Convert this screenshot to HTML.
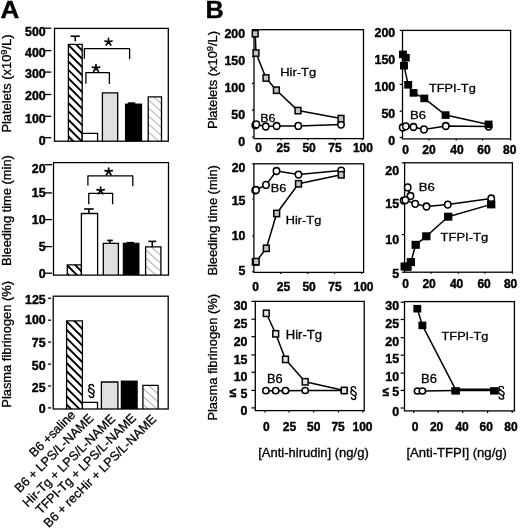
<!DOCTYPE html>
<html><head><meta charset="utf-8"><style>
html,body{margin:0;padding:0;background:#fff;}
svg{display:block;font-family:"Liberation Sans",sans-serif;will-change:transform;}
</style></head><body>
<svg width="520" height="530" viewBox="0 0 520 530">
<rect width="520" height="530" fill="#fff"/>
<text transform="translate(0.52,18.3) scale(1.05,1)" font-size="24.8" font-weight="bold" text-anchor="start" stroke="#000" stroke-width="0.4">A</text>
<text transform="translate(205.47,18.3) scale(1.02,1)" font-size="24.8" font-weight="bold" text-anchor="start" stroke="#000" stroke-width="0.4">B</text>
<rect x="68.4" y="44.4" width="13.8" height="96.8" fill="#fff"/>
<clipPath id="c1"><rect x="68.4" y="44.4" width="13.8" height="96.8"/></clipPath>
<g clip-path="url(#c1)" stroke="#000" stroke-width="1.9">
<line x1="66.4" y1="26.4" x2="84.2" y2="44.2"/>
<line x1="66.4" y1="34.7" x2="84.2" y2="52.5"/>
<line x1="66.4" y1="43" x2="84.2" y2="60.8"/>
<line x1="66.4" y1="51.3" x2="84.2" y2="69.1"/>
<line x1="66.4" y1="59.6" x2="84.2" y2="77.4"/>
<line x1="66.4" y1="67.9" x2="84.2" y2="85.7"/>
<line x1="66.4" y1="76.2" x2="84.2" y2="94"/>
<line x1="66.4" y1="84.5" x2="84.2" y2="102.3"/>
<line x1="66.4" y1="92.8" x2="84.2" y2="110.6"/>
<line x1="66.4" y1="101.1" x2="84.2" y2="118.9"/>
<line x1="66.4" y1="109.4" x2="84.2" y2="127.2"/>
<line x1="66.4" y1="117.7" x2="84.2" y2="135.5"/>
<line x1="66.4" y1="126" x2="84.2" y2="143.8"/>
<line x1="66.4" y1="134.3" x2="84.2" y2="152.1"/>
<line x1="66.4" y1="142.6" x2="84.2" y2="160.4"/>
</g>
<path d="M68.4,141.2V44.4H82.2V141.2" fill="none" stroke="#000" stroke-width="1.3"/>
<rect x="82.2" y="133.4" width="15.4" height="7.8" fill="#fff"/>
<path d="M82.2,141.2V133.4H97.6V141.2" fill="none" stroke="#000" stroke-width="1.3"/>
<rect x="102.4" y="92.8" width="15.3" height="48.4" fill="#e0e0e0"/>
<path d="M102.4,141.2V92.8H117.7V141.2" fill="none" stroke="#000" stroke-width="1.3"/>
<rect x="124.95" y="103.55" width="17.2" height="37.65" fill="#000"/>
<rect x="127.8" y="102.2" width="7.6" height="2" rx="1.2" fill="#000"/>
<rect x="148.2" y="96.9" width="13.3" height="44.3" fill="#fff"/>
<clipPath id="c2"><rect x="148.2" y="96.9" width="13.3" height="44.3"/></clipPath>
<g clip-path="url(#c2)" stroke="#b4b4b4" stroke-width="1.1">
<line x1="146.2" y1="82" x2="163.5" y2="97.57"/>
<line x1="146.2" y1="90" x2="163.5" y2="105.57"/>
<line x1="146.2" y1="98" x2="163.5" y2="113.57"/>
<line x1="146.2" y1="106" x2="163.5" y2="121.57"/>
<line x1="146.2" y1="114" x2="163.5" y2="129.57"/>
<line x1="146.2" y1="122" x2="163.5" y2="137.57"/>
<line x1="146.2" y1="130" x2="163.5" y2="145.57"/>
<line x1="146.2" y1="138" x2="163.5" y2="153.57"/>
<line x1="146.2" y1="146" x2="163.5" y2="161.57"/>
</g>
<path d="M148.2,141.2V96.9H161.5V141.2" fill="none" stroke="#000" stroke-width="1.3"/>
<line x1="70.6" y1="36.2" x2="79.8" y2="36.2" stroke="#000" stroke-width="1.6"/>
<line x1="75.2" y1="36.2" x2="75.2" y2="41.3" stroke="#000" stroke-width="1.6"/>
<polyline points="84.4,58.8 84.4,48.6 129.6,48.6 129.6,59.2" fill="none" stroke="#000" stroke-width="1.3" stroke-linejoin="round"/>
<polyline points="85.9,83.8 85.9,72.6 109.4,72.6 109.4,84" fill="none" stroke="#000" stroke-width="1.3" stroke-linejoin="round"/>
<path d="M108.5,41.8l0,-3.4M108.5,41.8l-3.6,-0.8M108.5,41.8l3.6,-0.8M108.5,41.8l-2.3,3.3M108.5,41.8l2.3,3.3" stroke="#000" stroke-width="1.7" stroke-linecap="round" fill="none"/>
<path d="M96,67.9l0,-3.4M96,67.9l-3.6,-0.8M96,67.9l3.6,-0.8M96,67.9l-2.3,3.3M96,67.9l2.3,3.3" stroke="#000" stroke-width="1.7" stroke-linecap="round" fill="none"/>
<rect x="54.5" y="28.4" width="113.8" height="112.8" fill="none" stroke="#000" stroke-width="1.3"/>
<line x1="44.3" y1="28.2" x2="51.3" y2="28.2" stroke="#000" stroke-width="1.3"/>
<line x1="44.3" y1="50.6" x2="51.3" y2="50.6" stroke="#000" stroke-width="1.3"/>
<line x1="44.3" y1="72.1" x2="51.3" y2="72.1" stroke="#000" stroke-width="1.3"/>
<line x1="44.3" y1="94.5" x2="51.3" y2="94.5" stroke="#000" stroke-width="1.3"/>
<line x1="44.3" y1="116.3" x2="51.3" y2="116.3" stroke="#000" stroke-width="1.3"/>
<line x1="44.3" y1="137.7" x2="51.3" y2="137.7" stroke="#000" stroke-width="1.3"/>
<text transform="translate(45.72,35.65) scale(1.03,1)" font-size="12" font-weight="bold" text-anchor="end" stroke="#000" stroke-width="0.4">500</text>
<text transform="translate(45.72,57.3) scale(1.03,1)" font-size="12" font-weight="bold" text-anchor="end" stroke="#000" stroke-width="0.4">400</text>
<text transform="translate(45.72,78) scale(1.03,1)" font-size="12" font-weight="bold" text-anchor="end" stroke="#000" stroke-width="0.4">300</text>
<text transform="translate(45.72,100.3) scale(1.03,1)" font-size="12" font-weight="bold" text-anchor="end" stroke="#000" stroke-width="0.4">200</text>
<text transform="translate(45.72,122.95) scale(1.03,1)" font-size="12" font-weight="bold" text-anchor="end" stroke="#000" stroke-width="0.4">100</text>
<text transform="translate(45.72,144.6) scale(1.03,1)" font-size="12" font-weight="bold" text-anchor="end" stroke="#000" stroke-width="0.4">0</text>
<text transform="translate(10.5,83.55) rotate(-90)" font-size="12" text-anchor="middle" textLength="98.1" lengthAdjust="spacingAndGlyphs" stroke="#000" stroke-width="0.3">Platelets (x10<tspan font-size="8.6" dy="-3.7">9</tspan><tspan dy="3.7">/L)</tspan></text>
<rect x="67.3" y="264.8" width="14.1" height="10.3" fill="#fff"/>
<clipPath id="c3"><rect x="67.3" y="264.8" width="14.1" height="10.3"/></clipPath>
<g clip-path="url(#c3)" stroke="#000" stroke-width="1.9">
<line x1="65.3" y1="246.8" x2="83.4" y2="264.9"/>
<line x1="65.3" y1="255.1" x2="83.4" y2="273.2"/>
<line x1="65.3" y1="263.4" x2="83.4" y2="281.5"/>
<line x1="65.3" y1="271.7" x2="83.4" y2="289.8"/>
<line x1="65.3" y1="280" x2="83.4" y2="298.1"/>
</g>
<path d="M67.3,275.1V264.8H81.4V275.1" fill="none" stroke="#000" stroke-width="1.3"/>
<rect x="81.4" y="213.5" width="16.2" height="61.6" fill="#fff"/>
<path d="M81.4,275.1V213.5H97.6V275.1" fill="none" stroke="#000" stroke-width="1.3"/>
<line x1="84.1" y1="209" x2="93.7" y2="209" stroke="#000" stroke-width="1.6"/>
<line x1="88.9" y1="209" x2="88.9" y2="213.5" stroke="#000" stroke-width="1.6"/>
<rect x="103.3" y="243.4" width="15.1" height="31.7" fill="#e0e0e0"/>
<path d="M103.3,275.1V243.4H118.4V275.1" fill="none" stroke="#000" stroke-width="1.3"/>
<line x1="107.2" y1="240.4" x2="112.8" y2="240.4" stroke="#000" stroke-width="1.6"/>
<line x1="110" y1="240.4" x2="110" y2="243.4" stroke="#000" stroke-width="1.6"/>
<rect x="122.75" y="242.75" width="16.7" height="32.35" fill="#000"/>
<rect x="126.5" y="241.9" width="7.5" height="1.5" fill="#000"/>
<rect x="145.6" y="246.9" width="15.3" height="28.2" fill="#fff"/>
<clipPath id="c4"><rect x="145.6" y="246.9" width="15.3" height="28.2"/></clipPath>
<g clip-path="url(#c4)" stroke="#b4b4b4" stroke-width="1.1">
<line x1="143.6" y1="224" x2="162.9" y2="241.37"/>
<line x1="143.6" y1="232" x2="162.9" y2="249.37"/>
<line x1="143.6" y1="240" x2="162.9" y2="257.37"/>
<line x1="143.6" y1="248" x2="162.9" y2="265.37"/>
<line x1="143.6" y1="256" x2="162.9" y2="273.37"/>
<line x1="143.6" y1="264" x2="162.9" y2="281.37"/>
<line x1="143.6" y1="272" x2="162.9" y2="289.37"/>
<line x1="143.6" y1="280" x2="162.9" y2="297.37"/>
</g>
<path d="M145.6,275.1V246.9H160.9V275.1" fill="none" stroke="#000" stroke-width="1.3"/>
<line x1="148.3" y1="241.4" x2="156.3" y2="241.4" stroke="#000" stroke-width="1.6"/>
<line x1="152.3" y1="241.4" x2="152.3" y2="246.9" stroke="#000" stroke-width="1.6"/>
<polyline points="87.9,185.5 87.9,175.9 132.8,175.9 132.8,186.2" fill="none" stroke="#000" stroke-width="1.3" stroke-linejoin="round"/>
<polyline points="88.8,204.2 88.8,193.3 112.6,193.3 112.6,204.2" fill="none" stroke="#000" stroke-width="1.3" stroke-linejoin="round"/>
<path d="M108.7,171.4l0,-3.4M108.7,171.4l-3.6,-0.8M108.7,171.4l3.6,-0.8M108.7,171.4l-2.3,3.3M108.7,171.4l2.3,3.3" stroke="#000" stroke-width="1.7" stroke-linecap="round" fill="none"/>
<path d="M100.6,190.5l0,-3.4M100.6,190.5l-3.6,-0.8M100.6,190.5l3.6,-0.8M100.6,190.5l-2.3,3.3M100.6,190.5l2.3,3.3" stroke="#000" stroke-width="1.7" stroke-linecap="round" fill="none"/>
<rect x="53.5" y="162.6" width="115" height="112.5" fill="none" stroke="#000" stroke-width="1.3"/>
<line x1="44.7" y1="164.7" x2="52.1" y2="164.7" stroke="#000" stroke-width="1.3"/>
<line x1="44.7" y1="192.9" x2="52.1" y2="192.9" stroke="#000" stroke-width="1.3"/>
<line x1="44.7" y1="219.6" x2="52.1" y2="219.6" stroke="#000" stroke-width="1.3"/>
<line x1="44.7" y1="246.6" x2="52.1" y2="246.6" stroke="#000" stroke-width="1.3"/>
<line x1="44.7" y1="273.2" x2="52.1" y2="273.2" stroke="#000" stroke-width="1.3"/>
<text transform="translate(45.62,172.65) scale(1.03,1)" font-size="12" font-weight="bold" text-anchor="end" stroke="#000" stroke-width="0.4">20</text>
<text transform="translate(45.62,197.1) scale(1.03,1)" font-size="12" font-weight="bold" text-anchor="end" stroke="#000" stroke-width="0.4">15</text>
<text transform="translate(45.62,223.95) scale(1.03,1)" font-size="12" font-weight="bold" text-anchor="end" stroke="#000" stroke-width="0.4">10</text>
<text transform="translate(45.62,250.8) scale(1.03,1)" font-size="12" font-weight="bold" text-anchor="end" stroke="#000" stroke-width="0.4">5</text>
<text transform="translate(45.62,277.55) scale(1.03,1)" font-size="12" font-weight="bold" text-anchor="end" stroke="#000" stroke-width="0.4">0</text>
<text transform="translate(10.9,210.55) rotate(-90)" font-size="12" text-anchor="middle" textLength="110.7" lengthAdjust="spacingAndGlyphs" stroke="#000" stroke-width="0.3">Bleeding time (min)</text>
<rect x="66.6" y="320.9" width="15.8" height="88.1" fill="#fff"/>
<clipPath id="c5"><rect x="66.6" y="320.9" width="15.8" height="88.1"/></clipPath>
<g clip-path="url(#c5)" stroke="#000" stroke-width="1.9">
<line x1="64.6" y1="302.9" x2="84.4" y2="322.7"/>
<line x1="64.6" y1="311.2" x2="84.4" y2="331"/>
<line x1="64.6" y1="319.5" x2="84.4" y2="339.3"/>
<line x1="64.6" y1="327.8" x2="84.4" y2="347.6"/>
<line x1="64.6" y1="336.1" x2="84.4" y2="355.9"/>
<line x1="64.6" y1="344.4" x2="84.4" y2="364.2"/>
<line x1="64.6" y1="352.7" x2="84.4" y2="372.5"/>
<line x1="64.6" y1="361" x2="84.4" y2="380.8"/>
<line x1="64.6" y1="369.3" x2="84.4" y2="389.1"/>
<line x1="64.6" y1="377.6" x2="84.4" y2="397.4"/>
<line x1="64.6" y1="385.9" x2="84.4" y2="405.7"/>
<line x1="64.6" y1="394.2" x2="84.4" y2="414"/>
<line x1="64.6" y1="402.5" x2="84.4" y2="422.3"/>
<line x1="64.6" y1="410.8" x2="84.4" y2="430.6"/>
</g>
<path d="M66.6,409V320.9H82.4V409" fill="none" stroke="#000" stroke-width="1.3"/>
<rect x="82.4" y="402.3" width="15.1" height="6.7" fill="#fff"/>
<path d="M82.4,409V402.3H97.5V409" fill="none" stroke="#000" stroke-width="1.3"/>
<rect x="101.4" y="382" width="16.5" height="27" fill="#e0e0e0"/>
<path d="M101.4,409V382H117.9V409" fill="none" stroke="#000" stroke-width="1.3"/>
<rect x="120.75" y="380.55" width="17" height="28.45" fill="#000"/>
<rect x="142.9" y="385.4" width="15.2" height="23.6" fill="#fff"/>
<clipPath id="c6"><rect x="142.9" y="385.4" width="15.2" height="23.6"/></clipPath>
<g clip-path="url(#c6)" stroke="#b4b4b4" stroke-width="1.1">
<line x1="140.9" y1="362.5" x2="160.1" y2="379.78"/>
<line x1="140.9" y1="370.5" x2="160.1" y2="387.78"/>
<line x1="140.9" y1="378.5" x2="160.1" y2="395.78"/>
<line x1="140.9" y1="386.5" x2="160.1" y2="403.78"/>
<line x1="140.9" y1="394.5" x2="160.1" y2="411.78"/>
<line x1="140.9" y1="402.5" x2="160.1" y2="419.78"/>
<line x1="140.9" y1="410.5" x2="160.1" y2="427.78"/>
</g>
<path d="M142.9,409V385.4H158.1V409" fill="none" stroke="#000" stroke-width="1.3"/>
<path d="M93.62,386.35 C93.41,385.02 92.35,384.51 91.29,384.51 C89.81,384.51 88.97,385.43 88.97,386.45 C88.97,387.78 90.45,388.39 91.72,389.01 C93.20,389.72 94.36,390.44 94.36,391.87 C94.36,392.89 93.51,393.61 92.56,394.02 M89.18,395.65 C89.39,396.98 90.45,397.49 91.51,397.49 C92.99,397.49 93.83,396.57 93.83,395.55 C93.83,394.22 92.35,393.61 91.08,392.99 C89.60,392.28 88.44,391.56 88.44,390.13 C88.44,389.11 89.29,388.39 90.24,387.98 " fill="none" stroke="#000" stroke-width="1.4" stroke-linecap="round"/>
<rect x="53.2" y="296.2" width="115" height="112.8" fill="none" stroke="#000" stroke-width="1.3"/>
<line x1="48.1" y1="298.3" x2="51" y2="298.3" stroke="#000" stroke-width="1.3"/>
<line x1="48.1" y1="320.2" x2="51" y2="320.2" stroke="#000" stroke-width="1.3"/>
<line x1="48.1" y1="342.1" x2="51" y2="342.1" stroke="#000" stroke-width="1.3"/>
<line x1="48.1" y1="364.1" x2="51" y2="364.1" stroke="#000" stroke-width="1.3"/>
<line x1="48.1" y1="386" x2="51" y2="386" stroke="#000" stroke-width="1.3"/>
<line x1="48.1" y1="407.9" x2="51" y2="407.9" stroke="#000" stroke-width="1.3"/>
<text transform="translate(45.62,303.65) scale(1.03,1)" font-size="12" font-weight="bold" text-anchor="end" stroke="#000" stroke-width="0.4">125</text>
<text transform="translate(45.62,323.95) scale(1.03,1)" font-size="12" font-weight="bold" text-anchor="end" stroke="#000" stroke-width="0.4">100</text>
<text transform="translate(45.62,347.2) scale(1.03,1)" font-size="12" font-weight="bold" text-anchor="end" stroke="#000" stroke-width="0.4">75</text>
<text transform="translate(45.62,370.3) scale(1.03,1)" font-size="12" font-weight="bold" text-anchor="end" stroke="#000" stroke-width="0.4">50</text>
<text transform="translate(45.62,391.8) scale(1.03,1)" font-size="12" font-weight="bold" text-anchor="end" stroke="#000" stroke-width="0.4">25</text>
<text transform="translate(45.62,413) scale(1.03,1)" font-size="12" font-weight="bold" text-anchor="end" stroke="#000" stroke-width="0.4">0</text>
<text transform="translate(11.1,344.35) rotate(-90)" font-size="12" text-anchor="middle" textLength="126.7" lengthAdjust="spacingAndGlyphs" stroke="#000" stroke-width="0.3">Plasma fibrinogen (%)</text>
<text transform="translate(34.25,457.65) rotate(-45)" font-size="12.65" stroke="#000" stroke-width="0.3">B6 +saline</text>
<text transform="translate(19.85,493.25) rotate(-45)" font-size="12.65" stroke="#000" stroke-width="0.3">B6 + LPS/L-NAME</text>
<text transform="translate(27.75,507.75) rotate(-45)" font-size="12.65" stroke="#000" stroke-width="0.3">Hir-Tg + LPS/L-NAME</text>
<text transform="translate(40.68,514.82) rotate(-45)" font-size="12.65" stroke="#000" stroke-width="0.3">TFPI-Tg + LPS/L-NAME</text>
<text transform="translate(48.75,528.15) rotate(-45)" font-size="12.65" stroke="#000" stroke-width="0.3">B6 + recHir + LPS/L-NAME</text>
<line x1="252" y1="29.7" x2="254" y2="29.7" stroke="#000" stroke-width="1.2"/>
<line x1="252" y1="56.6" x2="254" y2="56.6" stroke="#000" stroke-width="1.2"/>
<line x1="252" y1="83.4" x2="254" y2="83.4" stroke="#000" stroke-width="1.2"/>
<line x1="252" y1="110.2" x2="254" y2="110.2" stroke="#000" stroke-width="1.2"/>
<line x1="252" y1="137" x2="254" y2="137" stroke="#000" stroke-width="1.2"/>
<line x1="281.1" y1="138.6" x2="281.1" y2="140.2" stroke="#000" stroke-width="1.2"/>
<line x1="308" y1="138.6" x2="308" y2="140.2" stroke="#000" stroke-width="1.2"/>
<line x1="335.1" y1="138.6" x2="335.1" y2="140.2" stroke="#000" stroke-width="1.2"/>
<line x1="362.3" y1="138.6" x2="362.3" y2="140.2" stroke="#000" stroke-width="1.2"/>
<rect x="254" y="29.7" width="109.5" height="108.9" fill="none" stroke="#000" stroke-width="1.3"/>
<polyline points="255.3,125.2 256.3,124.4 265.8,126.5 276.6,126 298.25,125.9 341,124.6" fill="none" stroke="#000" stroke-width="1.5" stroke-linejoin="round"/>
<ellipse cx="255.3" cy="125.2" rx="3.18" ry="3.38" fill="#fff" stroke="#000" stroke-width="1.55"/>
<ellipse cx="256.3" cy="124.4" rx="3.18" ry="3.38" fill="#fff" stroke="#000" stroke-width="1.55"/>
<ellipse cx="265.8" cy="126.5" rx="3.18" ry="3.38" fill="#fff" stroke="#000" stroke-width="1.55"/>
<ellipse cx="276.6" cy="126" rx="3.18" ry="3.38" fill="#fff" stroke="#000" stroke-width="1.55"/>
<ellipse cx="298.25" cy="125.9" rx="3.18" ry="3.38" fill="#fff" stroke="#000" stroke-width="1.55"/>
<ellipse cx="341" cy="124.6" rx="3.18" ry="3.38" fill="#fff" stroke="#000" stroke-width="1.55"/>
<polyline points="255.2,33.7 256,53.1 266,78 276.4,90.2 298,110.6 341,118.6" fill="none" stroke="#000" stroke-width="1.5" stroke-linejoin="round"/>
<rect x="252.3" y="30.55" width="5.8" height="6.3" fill="#c4c4c4" stroke="#000" stroke-width="1.5"/>
<rect x="253.1" y="49.95" width="5.8" height="6.3" fill="#c4c4c4" stroke="#000" stroke-width="1.5"/>
<rect x="263.1" y="74.85" width="5.8" height="6.3" fill="#c4c4c4" stroke="#000" stroke-width="1.5"/>
<rect x="273.5" y="87.05" width="5.8" height="6.3" fill="#c4c4c4" stroke="#000" stroke-width="1.5"/>
<rect x="295.1" y="107.45" width="5.8" height="6.3" fill="#c4c4c4" stroke="#000" stroke-width="1.5"/>
<rect x="338.1" y="115.45" width="5.8" height="6.3" fill="#c4c4c4" stroke="#000" stroke-width="1.5"/>
<text transform="translate(245.01,37.9) scale(1.03,1)" font-size="12" font-weight="bold" text-anchor="end" stroke="#000" stroke-width="0.4">200</text>
<text transform="translate(245.01,64.5) scale(1.03,1)" font-size="12" font-weight="bold" text-anchor="end" stroke="#000" stroke-width="0.4">150</text>
<text transform="translate(245.01,91.65) scale(1.03,1)" font-size="12" font-weight="bold" text-anchor="end" stroke="#000" stroke-width="0.4">100</text>
<text transform="translate(245.01,118.6) scale(1.03,1)" font-size="12" font-weight="bold" text-anchor="end" stroke="#000" stroke-width="0.4">50</text>
<text transform="translate(245.01,145.6) scale(1.03,1)" font-size="12" font-weight="bold" text-anchor="end" stroke="#000" stroke-width="0.4">0</text>
<text transform="translate(258.5,152)" font-size="12" font-weight="bold" text-anchor="middle" stroke="#000" stroke-width="0.4">0</text>
<text transform="translate(283.2,152)" font-size="12" font-weight="bold" text-anchor="middle" stroke="#000" stroke-width="0.4">25</text>
<text transform="translate(309.1,152)" font-size="12" font-weight="bold" text-anchor="middle" stroke="#000" stroke-width="0.4">50</text>
<text transform="translate(335,152)" font-size="12" font-weight="bold" text-anchor="middle" stroke="#000" stroke-width="0.4">75</text>
<text transform="translate(362.9,152)" font-size="12" font-weight="bold" text-anchor="middle" stroke="#000" stroke-width="0.4">100</text>
<text transform="translate(280.17,75.6) scale(1.12,1)" font-size="11.6" text-anchor="start" stroke="#000" stroke-width="0.3">Hir-Tg</text>
<text transform="translate(260.31,121.83) scale(1.08,1)" font-size="11.5" text-anchor="start" stroke="#000" stroke-width="0.3">B6</text>
<text transform="translate(216.5,80.05) rotate(-90)" font-size="12" text-anchor="middle" textLength="98.1" lengthAdjust="spacingAndGlyphs" stroke="#000" stroke-width="0.3">Platelets (x10<tspan font-size="8.6" dy="-3.7">9</tspan><tspan dy="3.7">/L)</tspan></text>
<line x1="399.7" y1="30.4" x2="402.5" y2="30.4" stroke="#000" stroke-width="1.2"/>
<line x1="399.7" y1="57.3" x2="402.5" y2="57.3" stroke="#000" stroke-width="1.2"/>
<line x1="399.7" y1="84.4" x2="402.5" y2="84.4" stroke="#000" stroke-width="1.2"/>
<line x1="399.7" y1="111.2" x2="402.5" y2="111.2" stroke="#000" stroke-width="1.2"/>
<line x1="399.7" y1="137.5" x2="402.5" y2="137.5" stroke="#000" stroke-width="1.2"/>
<line x1="429.1" y1="138.9" x2="429.1" y2="140.5" stroke="#000" stroke-width="1.2"/>
<line x1="456.2" y1="138.9" x2="456.2" y2="140.5" stroke="#000" stroke-width="1.2"/>
<line x1="482.7" y1="138.9" x2="482.7" y2="140.5" stroke="#000" stroke-width="1.2"/>
<line x1="510.6" y1="138.9" x2="510.6" y2="140.5" stroke="#000" stroke-width="1.2"/>
<rect x="402.5" y="30.4" width="108.1" height="108.5" fill="none" stroke="#000" stroke-width="1.3"/>
<polyline points="402.7,127.5 405.8,126.3 413.5,127 424,129.4 445.8,126 488.6,126.6" fill="none" stroke="#000" stroke-width="1.5" stroke-linejoin="round"/>
<ellipse cx="402.7" cy="127.5" rx="3.18" ry="3.38" fill="#fff" stroke="#000" stroke-width="1.55"/>
<ellipse cx="405.8" cy="126.3" rx="3.18" ry="3.38" fill="#fff" stroke="#000" stroke-width="1.55"/>
<ellipse cx="413.5" cy="127" rx="3.18" ry="3.38" fill="#fff" stroke="#000" stroke-width="1.55"/>
<ellipse cx="424" cy="129.4" rx="3.18" ry="3.38" fill="#fff" stroke="#000" stroke-width="1.55"/>
<ellipse cx="445.8" cy="126" rx="3.18" ry="3.38" fill="#fff" stroke="#000" stroke-width="1.55"/>
<ellipse cx="488.6" cy="126.6" rx="3.18" ry="3.38" fill="#fff" stroke="#000" stroke-width="1.55"/>
<polyline points="402.9,54.4 405.8,57.7 404,65.7 408.2,84.8 413.6,92.9 424.3,98.4 445.6,115.1 488.6,124.4" fill="none" stroke="#000" stroke-width="1.5" stroke-linejoin="round"/>
<rect x="399.7" y="51.35" width="6.4" height="6.1" fill="#000" stroke="#000" stroke-width="1.5"/>
<rect x="402.6" y="54.65" width="6.4" height="6.1" fill="#000" stroke="#000" stroke-width="1.5"/>
<rect x="400.8" y="62.65" width="6.4" height="6.1" fill="#000" stroke="#000" stroke-width="1.5"/>
<rect x="405" y="81.75" width="6.4" height="6.1" fill="#000" stroke="#000" stroke-width="1.5"/>
<rect x="410.4" y="89.85" width="6.4" height="6.1" fill="#000" stroke="#000" stroke-width="1.5"/>
<rect x="421.1" y="95.35" width="6.4" height="6.1" fill="#000" stroke="#000" stroke-width="1.5"/>
<rect x="442.4" y="112.05" width="6.4" height="6.1" fill="#000" stroke="#000" stroke-width="1.5"/>
<rect x="485.4" y="121.35" width="6.4" height="6.1" fill="#000" stroke="#000" stroke-width="1.5"/>
<text transform="translate(395.21,37.45) scale(1.03,1)" font-size="12" font-weight="bold" text-anchor="end" stroke="#000" stroke-width="0.4">200</text>
<text transform="translate(395.21,64) scale(1.03,1)" font-size="12" font-weight="bold" text-anchor="end" stroke="#000" stroke-width="0.4">150</text>
<text transform="translate(395.21,90.8) scale(1.03,1)" font-size="12" font-weight="bold" text-anchor="end" stroke="#000" stroke-width="0.4">100</text>
<text transform="translate(395.21,118.4) scale(1.03,1)" font-size="12" font-weight="bold" text-anchor="end" stroke="#000" stroke-width="0.4">50</text>
<text transform="translate(395.21,145.2) scale(1.03,1)" font-size="12" font-weight="bold" text-anchor="end" stroke="#000" stroke-width="0.4">0</text>
<text transform="translate(405.5,153.7)" font-size="12" font-weight="bold" text-anchor="middle" stroke="#000" stroke-width="0.4">0</text>
<text transform="translate(429,153.7)" font-size="12" font-weight="bold" text-anchor="middle" stroke="#000" stroke-width="0.4">20</text>
<text transform="translate(456.9,153.7)" font-size="12" font-weight="bold" text-anchor="middle" stroke="#000" stroke-width="0.4">40</text>
<text transform="translate(484,153.7)" font-size="12" font-weight="bold" text-anchor="middle" stroke="#000" stroke-width="0.4">60</text>
<text transform="translate(509.7,153.7)" font-size="12" font-weight="bold" text-anchor="middle" stroke="#000" stroke-width="0.4">80</text>
<text transform="translate(428.98,91.5) scale(1.1,1)" font-size="11.6" text-anchor="start" stroke="#000" stroke-width="0.3">TFPI-Tg</text>
<text transform="translate(409.97,119.42) scale(1.14,1)" font-size="11.5" text-anchor="start" stroke="#000" stroke-width="0.3">B6</text>
<line x1="252.3" y1="163.8" x2="253.9" y2="163.8" stroke="#000" stroke-width="1.2"/>
<line x1="252.3" y1="199" x2="253.9" y2="199" stroke="#000" stroke-width="1.2"/>
<line x1="252.3" y1="235.9" x2="253.9" y2="235.9" stroke="#000" stroke-width="1.2"/>
<line x1="252.3" y1="271.7" x2="253.9" y2="271.7" stroke="#000" stroke-width="1.2"/>
<line x1="280.7" y1="272.4" x2="280.7" y2="274" stroke="#000" stroke-width="1.2"/>
<line x1="307.7" y1="272.4" x2="307.7" y2="274" stroke="#000" stroke-width="1.2"/>
<line x1="334.6" y1="272.4" x2="334.6" y2="274" stroke="#000" stroke-width="1.2"/>
<line x1="361.6" y1="272.4" x2="361.6" y2="274" stroke="#000" stroke-width="1.2"/>
<rect x="253.9" y="163.8" width="109.7" height="108.6" fill="none" stroke="#000" stroke-width="1.3"/>
<polyline points="255.2,190.3 256,190 266,184.9 276.5,171 298.5,174.6 341.2,170.6" fill="none" stroke="#000" stroke-width="1.5" stroke-linejoin="round"/>
<ellipse cx="255.2" cy="190.3" rx="3.18" ry="3.38" fill="#fff" stroke="#000" stroke-width="1.55"/>
<ellipse cx="256" cy="190" rx="3.18" ry="3.38" fill="#fff" stroke="#000" stroke-width="1.55"/>
<ellipse cx="266" cy="184.9" rx="3.18" ry="3.38" fill="#fff" stroke="#000" stroke-width="1.55"/>
<ellipse cx="276.5" cy="171" rx="3.18" ry="3.38" fill="#fff" stroke="#000" stroke-width="1.55"/>
<ellipse cx="298.5" cy="174.6" rx="3.18" ry="3.38" fill="#fff" stroke="#000" stroke-width="1.55"/>
<ellipse cx="341.2" cy="170.6" rx="3.18" ry="3.38" fill="#fff" stroke="#000" stroke-width="1.55"/>
<polyline points="255.3,261.9 256.2,261.6 266.3,248.3 276.7,213.5 298.5,183.8 341.2,174.8" fill="none" stroke="#000" stroke-width="1.5" stroke-linejoin="round"/>
<rect x="252.4" y="258.75" width="5.8" height="6.3" fill="#c4c4c4" stroke="#000" stroke-width="1.5"/>
<rect x="253.3" y="258.45" width="5.8" height="6.3" fill="#c4c4c4" stroke="#000" stroke-width="1.5"/>
<rect x="263.4" y="245.15" width="5.8" height="6.3" fill="#c4c4c4" stroke="#000" stroke-width="1.5"/>
<rect x="273.8" y="210.35" width="5.8" height="6.3" fill="#c4c4c4" stroke="#000" stroke-width="1.5"/>
<rect x="295.6" y="180.65" width="5.8" height="6.3" fill="#c4c4c4" stroke="#000" stroke-width="1.5"/>
<rect x="338.3" y="171.65" width="5.8" height="6.3" fill="#c4c4c4" stroke="#000" stroke-width="1.5"/>
<text transform="translate(245.41,171.95) scale(1.03,1)" font-size="12" font-weight="bold" text-anchor="end" stroke="#000" stroke-width="0.4">20</text>
<text transform="translate(245.41,204.95) scale(1.03,1)" font-size="12" font-weight="bold" text-anchor="end" stroke="#000" stroke-width="0.4">15</text>
<text transform="translate(245.41,240.2) scale(1.03,1)" font-size="12" font-weight="bold" text-anchor="end" stroke="#000" stroke-width="0.4">10</text>
<text transform="translate(245.41,275.05) scale(1.03,1)" font-size="12" font-weight="bold" text-anchor="end" stroke="#000" stroke-width="0.4">5</text>
<text transform="translate(255.5,291)" font-size="12" font-weight="bold" text-anchor="middle" stroke="#000" stroke-width="0.4">0</text>
<text transform="translate(283.5,291)" font-size="12" font-weight="bold" text-anchor="middle" stroke="#000" stroke-width="0.4">25</text>
<text transform="translate(309.1,291)" font-size="12" font-weight="bold" text-anchor="middle" stroke="#000" stroke-width="0.4">50</text>
<text transform="translate(335,291)" font-size="12" font-weight="bold" text-anchor="middle" stroke="#000" stroke-width="0.4">75</text>
<text transform="translate(363.5,291)" font-size="12" font-weight="bold" text-anchor="middle" stroke="#000" stroke-width="0.4">100</text>
<text transform="translate(270.74,191.8) scale(1.1,1)" font-size="11.6" text-anchor="start" stroke="#000" stroke-width="0.3">B6</text>
<text transform="translate(285.84,223.72) scale(1.11,1)" font-size="11.5" text-anchor="start" stroke="#000" stroke-width="0.3">Hir-Tg</text>
<text transform="translate(216.5,220.4) rotate(-90)" font-size="12" text-anchor="middle" textLength="110.4" lengthAdjust="spacingAndGlyphs" stroke="#000" stroke-width="0.3">Bleeding time (min)</text>
<line x1="401.8" y1="162.8" x2="404.6" y2="162.8" stroke="#000" stroke-width="1.2"/>
<line x1="401.8" y1="199" x2="404.6" y2="199" stroke="#000" stroke-width="1.2"/>
<line x1="401.8" y1="234.6" x2="404.6" y2="234.6" stroke="#000" stroke-width="1.2"/>
<line x1="401.8" y1="272.2" x2="404.6" y2="272.2" stroke="#000" stroke-width="1.2"/>
<line x1="431.1" y1="272.2" x2="431.1" y2="273.8" stroke="#000" stroke-width="1.2"/>
<line x1="458.3" y1="272.2" x2="458.3" y2="273.8" stroke="#000" stroke-width="1.2"/>
<line x1="485" y1="272.2" x2="485" y2="273.8" stroke="#000" stroke-width="1.2"/>
<line x1="512.4" y1="272.2" x2="512.4" y2="273.8" stroke="#000" stroke-width="1.2"/>
<rect x="404.6" y="162.8" width="107.8" height="109.4" fill="none" stroke="#000" stroke-width="1.3"/>
<polyline points="407.7,187.4 410.5,196 403.6,200.6 405.4,200.1 415.2,203.8 426.5,206.5 447.8,204.6 491.25,198.5" fill="none" stroke="#000" stroke-width="1.5" stroke-linejoin="round"/>
<ellipse cx="407.7" cy="187.4" rx="3.18" ry="3.38" fill="#fff" stroke="#000" stroke-width="1.55"/>
<ellipse cx="410.5" cy="196" rx="3.18" ry="3.38" fill="#fff" stroke="#000" stroke-width="1.55"/>
<ellipse cx="403.6" cy="200.6" rx="3.18" ry="3.38" fill="#fff" stroke="#000" stroke-width="1.55"/>
<ellipse cx="405.4" cy="200.1" rx="3.18" ry="3.38" fill="#fff" stroke="#000" stroke-width="1.55"/>
<ellipse cx="415.2" cy="203.8" rx="3.18" ry="3.38" fill="#fff" stroke="#000" stroke-width="1.55"/>
<ellipse cx="426.5" cy="206.5" rx="3.18" ry="3.38" fill="#fff" stroke="#000" stroke-width="1.55"/>
<ellipse cx="447.8" cy="204.6" rx="3.18" ry="3.38" fill="#fff" stroke="#000" stroke-width="1.55"/>
<ellipse cx="491.25" cy="198.5" rx="3.18" ry="3.38" fill="#fff" stroke="#000" stroke-width="1.55"/>
<polyline points="404.7,266.5 407.5,266.8 410.9,262.1 415.7,244.8 426.3,236.3 448.2,216.7 491.2,204.4" fill="none" stroke="#000" stroke-width="1.5" stroke-linejoin="round"/>
<rect x="401.3" y="263.25" width="6.8" height="6.5" fill="#000" stroke="#000" stroke-width="1.5"/>
<rect x="404.1" y="263.55" width="6.8" height="6.5" fill="#000" stroke="#000" stroke-width="1.5"/>
<rect x="407.5" y="258.85" width="6.8" height="6.5" fill="#000" stroke="#000" stroke-width="1.5"/>
<rect x="412.3" y="241.55" width="6.8" height="6.5" fill="#000" stroke="#000" stroke-width="1.5"/>
<rect x="422.9" y="233.05" width="6.8" height="6.5" fill="#000" stroke="#000" stroke-width="1.5"/>
<rect x="444.8" y="213.45" width="6.8" height="6.5" fill="#000" stroke="#000" stroke-width="1.5"/>
<rect x="487.8" y="201.15" width="6.8" height="6.5" fill="#000" stroke="#000" stroke-width="1.5"/>
<text transform="translate(399.12,175.05) scale(1.03,1)" font-size="12" font-weight="bold" text-anchor="end" stroke="#000" stroke-width="0.4">20</text>
<text transform="translate(399.12,207.85) scale(1.03,1)" font-size="12" font-weight="bold" text-anchor="end" stroke="#000" stroke-width="0.4">15</text>
<text transform="translate(399.12,243.75) scale(1.03,1)" font-size="12" font-weight="bold" text-anchor="end" stroke="#000" stroke-width="0.4">10</text>
<text transform="translate(399.12,277.6) scale(1.03,1)" font-size="12" font-weight="bold" text-anchor="end" stroke="#000" stroke-width="0.4">5</text>
<text transform="translate(405.5,288.1)" font-size="12" font-weight="bold" text-anchor="middle" stroke="#000" stroke-width="0.4">0</text>
<text transform="translate(429.1,288.1)" font-size="12" font-weight="bold" text-anchor="middle" stroke="#000" stroke-width="0.4">20</text>
<text transform="translate(456.6,288.1)" font-size="12" font-weight="bold" text-anchor="middle" stroke="#000" stroke-width="0.4">40</text>
<text transform="translate(484.1,288.1)" font-size="12" font-weight="bold" text-anchor="middle" stroke="#000" stroke-width="0.4">60</text>
<text transform="translate(510.6,288.1)" font-size="12" font-weight="bold" text-anchor="middle" stroke="#000" stroke-width="0.4">80</text>
<text transform="translate(418.8,190.75) scale(1.12,1)" font-size="11.8" text-anchor="start" stroke="#000" stroke-width="0.3">B6</text>
<text transform="translate(440.58,240.95) scale(1.1,1)" font-size="11.8" text-anchor="start" stroke="#000" stroke-width="0.3">TFPI-Tg</text>
<line x1="251.4" y1="301.4" x2="255.3" y2="301.4" stroke="#000" stroke-width="1.2"/>
<line x1="251.4" y1="319.2" x2="255.3" y2="319.2" stroke="#000" stroke-width="1.2"/>
<line x1="251.4" y1="336.7" x2="255.3" y2="336.7" stroke="#000" stroke-width="1.2"/>
<line x1="251.4" y1="354.9" x2="255.3" y2="354.9" stroke="#000" stroke-width="1.2"/>
<line x1="251.4" y1="372.2" x2="255.3" y2="372.2" stroke="#000" stroke-width="1.2"/>
<line x1="251.4" y1="390.4" x2="255.3" y2="390.4" stroke="#000" stroke-width="1.2"/>
<line x1="251.4" y1="407.9" x2="255.3" y2="407.9" stroke="#000" stroke-width="1.2"/>
<line x1="265.1" y1="410.6" x2="265.1" y2="412.6" stroke="#000" stroke-width="1.2"/>
<line x1="289" y1="410.6" x2="289" y2="412.6" stroke="#000" stroke-width="1.2"/>
<line x1="313.7" y1="410.6" x2="313.7" y2="412.6" stroke="#000" stroke-width="1.2"/>
<line x1="338.5" y1="410.6" x2="338.5" y2="412.6" stroke="#000" stroke-width="1.2"/>
<line x1="363" y1="410.6" x2="363" y2="412.6" stroke="#000" stroke-width="1.2"/>
<rect x="255.3" y="301.4" width="108.9" height="109.2" fill="none" stroke="#000" stroke-width="1.3"/>
<polyline points="265.9,390.65 275.7,390.65 285.5,390.65 305.2,390.5 344.2,390.5" fill="none" stroke="#000" stroke-width="1.5" stroke-linejoin="round"/>
<ellipse cx="265.9" cy="390.65" rx="3.18" ry="3.08" fill="#fff" stroke="#000" stroke-width="1.55"/>
<ellipse cx="275.7" cy="390.65" rx="3.18" ry="3.08" fill="#fff" stroke="#000" stroke-width="1.55"/>
<ellipse cx="285.5" cy="390.65" rx="3.18" ry="3.08" fill="#fff" stroke="#000" stroke-width="1.55"/>
<ellipse cx="305.2" cy="390.5" rx="3.18" ry="3.08" fill="#fff" stroke="#000" stroke-width="1.55"/>
<ellipse cx="344.2" cy="390.5" rx="3.18" ry="3.08" fill="#fff" stroke="#000" stroke-width="1.55"/>
<polyline points="266.3,313.3 275.7,333.8 285.5,359.4 305.2,381.8 344.2,390.5" fill="none" stroke="#000" stroke-width="1.5" stroke-linejoin="round"/>
<rect x="263.4" y="310.15" width="5.8" height="6.3" fill="#e8e8e8" stroke="#000" stroke-width="1.5"/>
<rect x="272.8" y="330.65" width="5.8" height="6.3" fill="#e8e8e8" stroke="#000" stroke-width="1.5"/>
<rect x="282.6" y="356.25" width="5.8" height="6.3" fill="#e8e8e8" stroke="#000" stroke-width="1.5"/>
<rect x="302.3" y="378.65" width="5.8" height="6.3" fill="#e8e8e8" stroke="#000" stroke-width="1.5"/>
<rect x="341.3" y="387.35" width="5.8" height="6.3" fill="#e8e8e8" stroke="#000" stroke-width="1.5"/>
<text transform="translate(247.41,310.3) scale(1.03,1)" font-size="12" font-weight="bold" text-anchor="end" stroke="#000" stroke-width="0.4">30</text>
<text transform="translate(247.41,328.2) scale(1.03,1)" font-size="12" font-weight="bold" text-anchor="end" stroke="#000" stroke-width="0.4">25</text>
<text transform="translate(247.41,345.7) scale(1.03,1)" font-size="12" font-weight="bold" text-anchor="end" stroke="#000" stroke-width="0.4">20</text>
<text transform="translate(247.41,363.5) scale(1.03,1)" font-size="12" font-weight="bold" text-anchor="end" stroke="#000" stroke-width="0.4">15</text>
<text transform="translate(247.41,380.5) scale(1.03,1)" font-size="12" font-weight="bold" text-anchor="end" stroke="#000" stroke-width="0.4">10</text>
<text transform="translate(247.41,397.6) scale(1.03,1)" font-size="12" font-weight="bold" text-anchor="end" stroke="#000" stroke-width="0.4">5</text>
<text transform="translate(247.41,415.45) scale(1.03,1)" font-size="12" font-weight="bold" text-anchor="end" stroke="#000" stroke-width="0.4">0</text>
<text transform="translate(229.6,397.1) scale(0.925,1)" font-size="13.4" font-weight="bold" text-anchor="start" stroke="#000" stroke-width="0.4">≤</text>
<text transform="translate(266.25,430.95)" font-size="12" font-weight="bold" text-anchor="middle" stroke="#000" stroke-width="0.4">0</text>
<text transform="translate(289.4,430.95)" font-size="12" font-weight="bold" text-anchor="middle" stroke="#000" stroke-width="0.4">25</text>
<text transform="translate(313.75,430.95)" font-size="12" font-weight="bold" text-anchor="middle" stroke="#000" stroke-width="0.4">50</text>
<text transform="translate(338.1,430.95)" font-size="12" font-weight="bold" text-anchor="middle" stroke="#000" stroke-width="0.4">75</text>
<text transform="translate(362.5,430.95)" font-size="12" font-weight="bold" text-anchor="middle" stroke="#000" stroke-width="0.4">100</text>
<text transform="translate(285.76,339.18) scale(1.08,1)" font-size="12.1" text-anchor="start" stroke="#000" stroke-width="0.3">Hir-Tg</text>
<text transform="translate(266.93,382.97) scale(1.06,1)" font-size="12.1" text-anchor="start" stroke="#000" stroke-width="0.3">B6</text>
<path d="M355.60,388.43 C355.40,387.11 354.40,386.61 353.40,386.61 C352.00,386.61 351.20,387.52 351.20,388.53 C351.20,389.85 352.60,390.46 353.80,391.07 C355.20,391.78 356.30,392.49 356.30,393.91 C356.30,394.93 355.50,395.64 354.60,396.04 M351.40,397.67 C351.60,398.99 352.60,399.49 353.60,399.49 C355.00,399.49 355.80,398.58 355.80,397.57 C355.80,396.25 354.40,395.64 353.20,395.03 C351.80,394.32 350.70,393.61 350.70,392.19 C350.70,391.17 351.50,390.46 352.40,390.06 " fill="none" stroke="#000" stroke-width="1.4" stroke-linecap="round"/>
<text transform="translate(258.22,457.07) scale(1.076,1)" font-size="12.1" text-anchor="start" stroke="#000" stroke-width="0.3">[Anti-hirudin] (ng/g)</text>
<text transform="translate(216.5,357.3) rotate(-90)" font-size="12" text-anchor="middle" textLength="126.6" lengthAdjust="spacingAndGlyphs" stroke="#000" stroke-width="0.3">Plasma fibrinogen (%)</text>
<line x1="400.6" y1="302.2" x2="404.5" y2="302.2" stroke="#000" stroke-width="1.2"/>
<line x1="400.6" y1="319.5" x2="404.5" y2="319.5" stroke="#000" stroke-width="1.2"/>
<line x1="400.6" y1="337.7" x2="404.5" y2="337.7" stroke="#000" stroke-width="1.2"/>
<line x1="400.6" y1="355.2" x2="404.5" y2="355.2" stroke="#000" stroke-width="1.2"/>
<line x1="400.6" y1="373.1" x2="404.5" y2="373.1" stroke="#000" stroke-width="1.2"/>
<line x1="400.6" y1="390.4" x2="404.5" y2="390.4" stroke="#000" stroke-width="1.2"/>
<line x1="400.6" y1="408" x2="404.5" y2="408" stroke="#000" stroke-width="1.2"/>
<line x1="413.75" y1="410.9" x2="413.75" y2="412.9" stroke="#000" stroke-width="1.2"/>
<line x1="438.2" y1="410.9" x2="438.2" y2="412.9" stroke="#000" stroke-width="1.2"/>
<line x1="462.7" y1="410.9" x2="462.7" y2="412.9" stroke="#000" stroke-width="1.2"/>
<line x1="487.6" y1="410.9" x2="487.6" y2="412.9" stroke="#000" stroke-width="1.2"/>
<line x1="512.2" y1="410.9" x2="512.2" y2="412.9" stroke="#000" stroke-width="1.2"/>
<rect x="404.5" y="301.6" width="109.9" height="109.3" fill="none" stroke="#000" stroke-width="1.3"/>
<polyline points="417.5,391 422.4,391 455.5,390.4 494.2,390.4" fill="none" stroke="#000" stroke-width="1.5" stroke-linejoin="round"/>
<ellipse cx="417.5" cy="391" rx="3.18" ry="3.08" fill="#fff" stroke="#000" stroke-width="1.55"/>
<ellipse cx="422.4" cy="391" rx="3.18" ry="3.08" fill="#fff" stroke="#000" stroke-width="1.55"/>
<polyline points="417.3,308.7 422.4,325.4 455.5,389.3 494.2,389.3" fill="none" stroke="#000" stroke-width="1.5" stroke-linejoin="round"/>
<rect x="414.1" y="305.65" width="6.4" height="6.1" fill="#000" stroke="#000" stroke-width="1.5"/>
<rect x="419.2" y="322.35" width="6.4" height="6.1" fill="#000" stroke="#000" stroke-width="1.5"/>
<rect x="452.05" y="387.95" width="7.1" height="5.9" fill="#000" stroke="#000" stroke-width="1.5"/>
<rect x="490.85" y="387.95" width="7.1" height="5.9" fill="#000" stroke="#000" stroke-width="1.5"/>
<text transform="translate(399.01,310.45) scale(1.03,1)" font-size="12" font-weight="bold" text-anchor="end" stroke="#000" stroke-width="0.4">30</text>
<text transform="translate(399.01,327.85) scale(1.03,1)" font-size="12" font-weight="bold" text-anchor="end" stroke="#000" stroke-width="0.4">25</text>
<text transform="translate(399.01,345.9) scale(1.03,1)" font-size="12" font-weight="bold" text-anchor="end" stroke="#000" stroke-width="0.4">20</text>
<text transform="translate(399.01,363.15) scale(1.03,1)" font-size="12" font-weight="bold" text-anchor="end" stroke="#000" stroke-width="0.4">15</text>
<text transform="translate(399.01,380.55) scale(1.03,1)" font-size="12" font-weight="bold" text-anchor="end" stroke="#000" stroke-width="0.4">10</text>
<text transform="translate(399.01,396.2) scale(1.03,1)" font-size="12" font-weight="bold" text-anchor="end" stroke="#000" stroke-width="0.4">5</text>
<text transform="translate(399.01,415.7) scale(1.03,1)" font-size="12" font-weight="bold" text-anchor="end" stroke="#000" stroke-width="0.4">0</text>
<text transform="translate(382.6,395.9) scale(0.9,1)" font-size="13.0" font-weight="bold" text-anchor="start" stroke="#000" stroke-width="0.4">≤</text>
<text transform="translate(415.1,430.55)" font-size="12" font-weight="bold" text-anchor="middle" stroke="#000" stroke-width="0.4">0</text>
<text transform="translate(436.6,430.55)" font-size="12" font-weight="bold" text-anchor="middle" stroke="#000" stroke-width="0.4">20</text>
<text transform="translate(462.1,430.55)" font-size="12" font-weight="bold" text-anchor="middle" stroke="#000" stroke-width="0.4">40</text>
<text transform="translate(486.25,430.55)" font-size="12" font-weight="bold" text-anchor="middle" stroke="#000" stroke-width="0.4">60</text>
<text transform="translate(510.9,430.55)" font-size="12" font-weight="bold" text-anchor="middle" stroke="#000" stroke-width="0.4">80</text>
<text transform="translate(441.58,339.85) scale(1.08,1)" font-size="11.8" text-anchor="start" stroke="#000" stroke-width="0.3">TFPI-Tg</text>
<text transform="translate(421.07,383.06) scale(1.08,1)" font-size="12.0" text-anchor="start" stroke="#000" stroke-width="0.3">B6</text>
<path d="M503.54,388.20 C503.33,386.90 502.29,386.40 501.25,386.40 C499.79,386.40 498.95,387.30 498.95,388.30 C498.95,389.60 500.41,390.20 501.66,390.80 C503.12,391.50 504.27,392.20 504.27,393.60 C504.27,394.60 503.44,395.30 502.50,395.70 M499.16,397.30 C499.37,398.60 500.41,399.10 501.45,399.10 C502.91,399.10 503.75,398.20 503.75,397.20 C503.75,395.90 502.29,395.30 501.04,394.70 C499.58,394.00 498.43,393.30 498.43,391.90 C498.43,390.90 499.26,390.20 500.20,389.80 " fill="none" stroke="#000" stroke-width="1.4" stroke-linecap="round"/>
<text transform="translate(406.42,457.07) scale(1.084,1)" font-size="12.1" text-anchor="start" stroke="#000" stroke-width="0.3">[Anti-TFPI] (ng/g)</text>
</svg></body></html>
